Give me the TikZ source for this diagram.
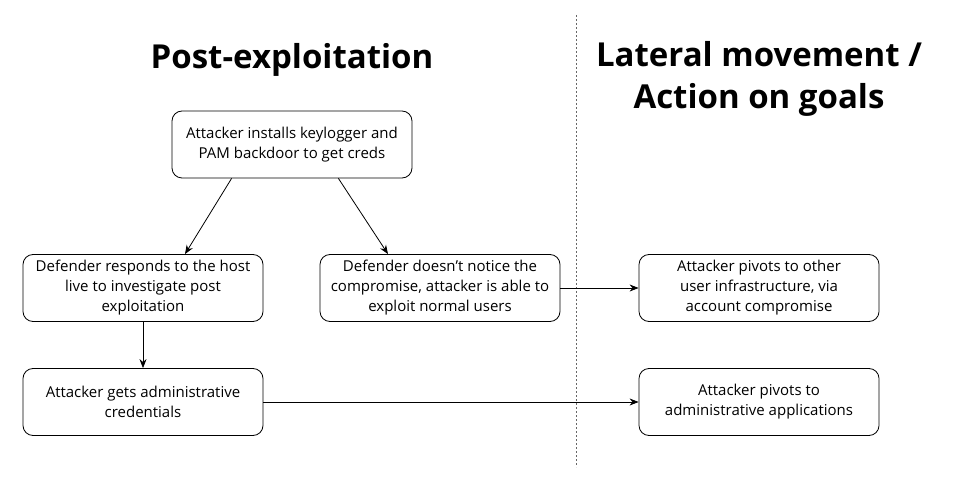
\documentclass[tikz,border=0pt]{standalone}
\usepackage{fontspec}
\setmainfont{Open Sans}
\usetikzlibrary{arrows.meta}
\begin{document}
\begin{tikzpicture}[x=1pt,y=-1pt,
  box/.style={draw, rounded corners=10pt, line width=0.8pt, minimum width=240pt, minimum height=67pt, align=center, inner sep=0pt, font=\fontsize{15}{20}\selectfont},
  conn/.style={draw, line width=0.8pt, -{Stealth[length=9pt,width=7pt]}},
  ttl/.style={align=center, font=\fontsize{33}{42}\selectfont\bfseries}]
\useasboundingbox (0,0) rectangle (958,486);
\node[ttl] (t1) at (292,60) {Post-exploitation};
\node[ttl] (t2) at (759,79) {Lateral movement /\\Action on goals};
\coordinate (dtop) at (576,15);
\coordinate (dbot) at (576,467);
\draw[dashed, dash pattern=on 2pt off 2pt, line width=0.8pt, gray!80!black] (dtop) -- (dbot);
\node[box] (a) at (292,144.5) {Attacker installs keylogger and\\PAM backdoor to get creds};
\node[box] (b) at (143,288) {Defender responds to the host\\live to investigate post\\exploitation};
\node[box] (c) at (440,288) {Defender doesn't notice the\\compromise, attacker is able to\\exploit normal users};
\node[box] (d) at (143,402) {Attacker gets administrative\\credentials};
\node[box] (e) at (759,288) {Attacker pivots to other\\user infrastructure, via\\account compromise};
\node[box] (f) at (759,402) {Attacker pivots to\\administrative applications};
\coordinate (a1) at ([xshift=60pt]a.south west);
\coordinate (a2) at ([xshift=-74pt]a.south east);
\coordinate (b1) at ([xshift=42pt]b.north);
\coordinate (c1) at ([xshift=-52pt]c.north);
\draw[conn] (a1) -- (b1);
\draw[conn] (a2) -- (c1);
\draw[conn] (b) -- (d);
\draw[conn] (c) -- (e);
\draw[conn] (d) -- (f);
\end{tikzpicture}
\end{document}
